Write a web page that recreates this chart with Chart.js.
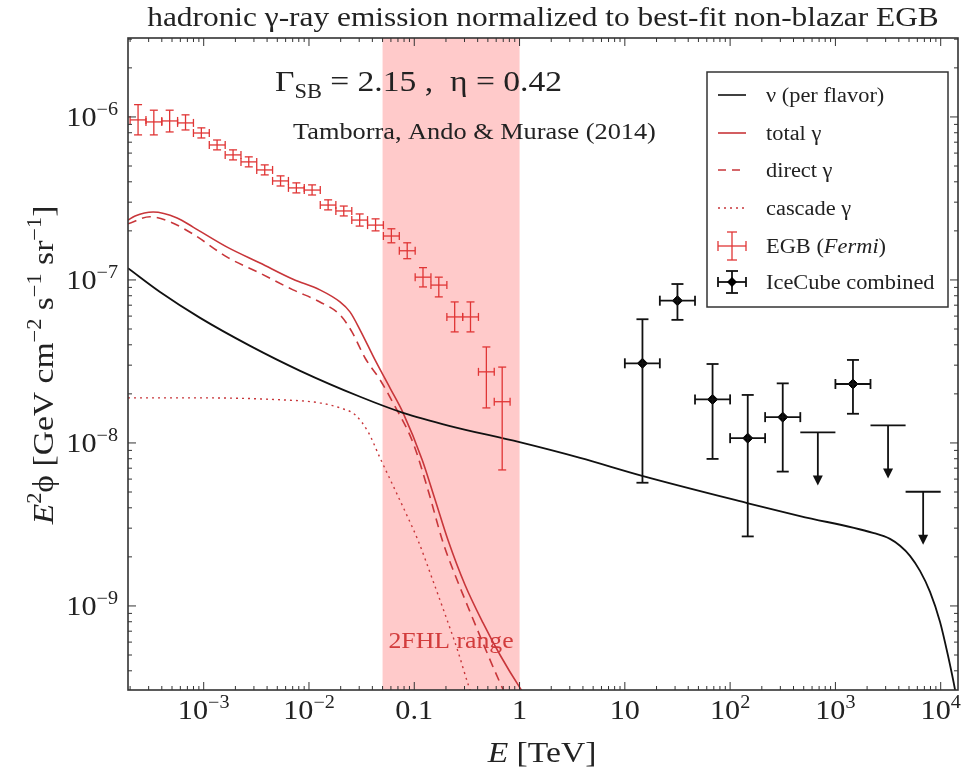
<!DOCTYPE html>
<html>
<head>
<meta charset="utf-8">
<script src="https://cdn.jsdelivr.net/npm/chart.js@4.4.1/dist/chart.umd.min.js"></script>
<style>
  html, body { margin: 0; padding: 0; background: #fff; }
  #wrap { width: 974px; height: 779px; }
</style>
</head>
<body>
<div id="wrap"><canvas id="chart" width="974" height="779"></canvas></div>
<script>
// ---------------------------------------------------------------
//  Data (E in TeV, E^2 phi in GeV cm^-2 s^-1 sr^-1)
// ---------------------------------------------------------------
const nuE  = [1.91e-4, 3.85e-4, 9.24e-4, 2.76e-3, 8.24e-3, 3.06e-2, 7.83e-2, 0.219, 1.0, 3.76, 14.6, 145, 461, 2275, 3300, 4110, 5110, 6360, 7920, 9860, 1.17e4, 1.37e4, 1.53e4];
const nuF  = [1.18e-7, 8.43e-8, 5.85e-8, 3.94e-8, 2.77e-8, 1.92e-8, 1.53e-8, 1.27e-8, 1.01e-8, 8.09e-9, 6.28e-9, 4.28e-9, 3.56e-9, 2.81e-9, 2.58e-9, 2.34e-9, 2.03e-9, 1.64e-9, 1.22e-9, 7.98e-10, 5.00e-10, 3.05e-10, 2.0e-10];

const totE = [1.91e-4, 2.23e-4, 3.31e-4, 5.59e-4, 7.93e-4, 1.67e-3, 3.43e-3, 7.06e-3, 1.27e-2, 1.97e-2, 2.45e-2, 3.06e-2, 4.24e-2, 5.89e-2, 7.83e-2, 0.119, 0.158, 0.209, 0.303, 0.450, 0.653, 1.01, 1.55];
const totF = [2.33e-7, 2.47e-7, 2.61e-7, 2.40e-7, 2.11e-7, 1.59e-7, 1.27e-7, 1.01e-7, 8.69e-8, 7.33e-8, 6.37e-8, 4.93e-8, 3.23e-8, 2.17e-8, 1.53e-8, 7.87e-9, 4.47e-9, 2.54e-9, 1.35e-9, 7.87e-10, 5.00e-10, 3.14e-10, 2.1e-10];

const dirE = [1.91e-4, 3.09e-4, 4.80e-4, 7.93e-4, 1.67e-3, 3.43e-3, 7.06e-3, 1.27e-2, 1.97e-2, 2.56e-2, 3.41e-2, 4.73e-2, 6.29e-2, 9.75e-2, 0.135, 0.188, 0.244, 0.324, 0.470, 0.653, 0.81];
const dirF = [2.21e-7, 2.44e-7, 2.27e-7, 1.91e-7, 1.38e-7, 1.10e-7, 8.69e-8, 7.33e-8, 6.10e-8, 4.80e-8, 3.32e-8, 2.44e-8, 1.76e-8, 1.0e-8, 5.15e-9, 2.44e-9, 1.55e-9, 9.86e-10, 5.52e-10, 3.37e-10, 2.5e-10];

const casE = [1.91e-4, 9.24e-4, 5.32e-3, 1.27e-2, 1.97e-2, 2.74e-2, 3.64e-2, 4.73e-2, 6.57e-2, 8.73e-2, 0.109, 0.151, 0.205, 0.261, 0.324, 0.404];
const casF = [1.89e-8, 1.89e-8, 1.84e-8, 1.76e-8, 1.64e-8, 1.49e-8, 1.17e-8, 8.09e-9, 5.15e-9, 3.47e-9, 2.51e-9, 1.42e-9, 8.20e-10, 5.22e-10, 3.32e-10, 2.24e-10];

// Fermi EGB: bin centre, bin edges, flux, error range
const egbE   = [2.38e-4, 3.36e-4, 4.75e-4, 6.72e-4, 9.50e-4, 1.34e-3, 1.90e-3, 2.68e-3, 3.80e-3, 5.37e-3, 7.59e-3, 1.07e-2, 1.52e-2, 2.14e-2, 3.03e-2, 4.29e-2, 6.06e-2, 8.57e-2, 0.121, 0.171, 0.242, 0.342, 0.484, 0.684];
const egbElo = [2.00e-4, 2.83e-4, 4.00e-4, 5.65e-4, 7.99e-4, 1.13e-3, 1.60e-3, 2.26e-3, 3.19e-3, 4.51e-3, 6.38e-3, 9.02e-3, 1.28e-2, 1.80e-2, 2.55e-2, 3.60e-2, 5.09e-2, 7.21e-2, 0.102, 0.144, 0.204, 0.288, 0.407, 0.575];
const egbEhi = [2.83e-4, 4.00e-4, 5.65e-4, 7.99e-4, 1.13e-3, 1.60e-3, 2.26e-3, 3.19e-3, 4.51e-3, 6.38e-3, 9.02e-3, 1.28e-2, 1.80e-2, 2.55e-2, 3.60e-2, 5.09e-2, 7.21e-2, 0.102, 0.144, 0.204, 0.288, 0.407, 0.575, 0.813];
const egbF   = [9.59e-7, 9.32e-7, 9.45e-7, 9.19e-7, 7.97e-7, 6.73e-7, 5.85e-7, 5.30e-7, 4.73e-7, 4.05e-7, 3.67e-7, 3.56e-7, 2.88e-7, 2.65e-7, 2.33e-7, 2.17e-7, 1.86e-7, 1.51e-7, 1.04e-7, 9.3e-8, 5.93e-8, 5.93e-8, 2.73e-8, 1.79e-8];
const egbHi  = [1.19e-6, 1.10e-6, 1.10e-6, 1.03e-6, 8.57e-7, 7.22e-7, 6.28e-7, 5.69e-7, 5.08e-7, 4.35e-7, 3.94e-7, 3.83e-7, 3.10e-7, 2.84e-7, 2.54e-7, 2.37e-7, 2.06e-7, 1.69e-7, 1.19e-7, 1.04e-7, 7.33e-8, 7.33e-8, 3.88e-8, 2.92e-8];
const egbLo  = [7.76e-7, 7.76e-7, 8.09e-7, 8.32e-7, 7.43e-7, 6.28e-7, 5.45e-7, 4.94e-7, 4.41e-7, 3.77e-7, 3.42e-7, 3.32e-7, 2.69e-7, 2.47e-7, 2.14e-7, 2.00e-7, 1.69e-7, 1.35e-7, 9.06e-8, 7.87e-8, 4.80e-8, 4.80e-8, 1.64e-8, 6.83e-9];

// IceCube combined: measured points
const icE   = [14.7, 31.6, 68.1, 147, 316, 1468];
const icElo = [10.0, 21.5, 46.4, 100, 215, 1000];
const icEhi = [21.5, 46.4, 100, 215, 464, 2154];
const icF   = [3.08e-8, 7.46e-8, 1.85e-8, 1.07e-8, 1.44e-8, 2.30e-8];
const icHi  = [5.74e-8, 9.44e-8, 3.05e-8, 1.97e-8, 2.32e-8, 3.23e-8];
const icLo  = [5.70e-9, 5.69e-8, 7.98e-9, 2.67e-9, 6.67e-9, 1.51e-8];

// IceCube combined: upper limits
const ulE   = [681, 3162, 6813];
const ulElo = [464, 2154, 4642];
const ulEhi = [1000, 4642, 10000];
const ulF   = [1.16e-8, 1.28e-8, 5.02e-9];

// axes
const xMin = 1.91e-4, xMax = 1.46e4;
const yMin = 3.05e-10, yMax = 3.05e-6;
const xTickValues = [1e-3, 1e-2, 0.1, 1, 10, 100, 1e3, 1e4];
const xTickText = [['10', '−3'], ['10', '−2'], ['0.1', ''], ['1', ''], ['10', ''], ['10', '2'], ['10', '3'], ['10', '4']];
const yTickValues = [1e-9, 1e-8, 1e-7, 1e-6];
const yTickText = [['10', '−9'], ['10', '−8'], ['10', '−7'], ['10', '−6']];

const bandRange = [0.05, 1];

// ---------------------------------------------------------------
//  Style helpers
// ---------------------------------------------------------------
const SERIF = '"Liberation Serif", "DejaVu Serif", serif';
const RED = '#c8363a';
const RED_BAR = '#e03535';
const FRAME = '#333';
const HS = 1.12;   // the original lettering is a bit wider than Liberation Serif

function toXY(xs, ys) {
    return xs.map((x, i) => ({ x, y: ys[i] }));
}

function fontOf(p, size) {
    const s = (p.sup || p.sub) ? Math.round(size * 0.66) : size;
    return (p.it ? 'italic ' : '') + s + 'px ' + SERIF;
}

function richWidth(ctx, parts, size) {
    let w = 0;
    for (const p of parts) { ctx.font = fontOf(p, size); w += ctx.measureText(p.t).width; }
    return w * HS;
}

function drawRich(ctx, parts, x, y, size, align) {
    const w = richWidth(ctx, parts, size);
    const x0 = align === 'center' ? x - w / 2 : align === 'right' ? x - w : x;
    ctx.save();
    ctx.translate(x0, y);
    ctx.scale(HS, 1);
    ctx.textAlign = 'left';
    ctx.textBaseline = 'alphabetic';
    let cx = 0;
    for (const p of parts) {
        ctx.font = fontOf(p, size);
        const dy = p.sup ? -size * 0.4 : p.sub ? size * 0.22 : 0;
        ctx.fillText(p.t, cx, dy);
        cx += ctx.measureText(p.t).width;
    }
    ctx.restore();
}

function tickParts(pair) {
    return pair[1] ? [{ t: pair[0] }, { t: pair[1], sup: true }] : [{ t: pair[0] }];
}

function line(ctx, x1, y1, x2, y2) {
    ctx.beginPath(); ctx.moveTo(x1, y1); ctx.lineTo(x2, y2); ctx.stroke();
}

// ---------------------------------------------------------------
//  Plugin: band, frame, ticks, error bars, texts, legend
// ---------------------------------------------------------------
const decorPlugin = {
    id: 'decor',
    beforeDatasetsDraw(chart) {
        const { ctx, chartArea: a, scales: { x } } = chart;
        ctx.save();
        ctx.fillStyle = '#ffcaca';
        const x0 = x.getPixelForValue(bandRange[0]), x1 = x.getPixelForValue(bandRange[1]);
        ctx.fillRect(x0, a.top, x1 - x0, a.bottom - a.top);
        ctx.fillStyle = '#d23c3c';
        drawRich(ctx, [{ t: '2FHL range' }], (x0 + x1) / 2, 648, 23, 'center');
        ctx.restore();
    },
    afterDatasetsDraw(chart) {
        const { ctx, chartArea: a, scales: { x, y } } = chart;
        ctx.save();
        ctx.beginPath();
        ctx.rect(a.left, a.top, a.right - a.left, a.bottom - a.top);
        ctx.clip();

        // Fermi EGB crosses
        ctx.strokeStyle = RED_BAR;
        ctx.lineWidth = 1.3;
        egbE.forEach((e, i) => {
            const px = x.getPixelForValue(e), py = y.getPixelForValue(egbF[i]);
            const xl = x.getPixelForValue(egbElo[i]), xh = x.getPixelForValue(egbEhi[i]);
            const yl = y.getPixelForValue(egbLo[i]), yh = y.getPixelForValue(egbHi[i]);
            line(ctx, xl, py, xh, py);
            line(ctx, xl, py - 4, xl, py + 4);
            line(ctx, xh, py - 4, xh, py + 4);
            line(ctx, px, yl, px, yh);
            line(ctx, px - 4, yl, px + 4, yl);
            line(ctx, px - 4, yh, px + 4, yh);
        });

        // IceCube bars
        ctx.strokeStyle = '#111';
        ctx.lineWidth = 1.8;
        icE.forEach((e, i) => {
            const px = x.getPixelForValue(e), py = y.getPixelForValue(icF[i]);
            const xl = x.getPixelForValue(icElo[i]), xh = x.getPixelForValue(icEhi[i]);
            const yl = y.getPixelForValue(icLo[i]), yh = y.getPixelForValue(icHi[i]);
            line(ctx, xl, py, xh, py);
            line(ctx, xl, py - 5, xl, py + 5);
            line(ctx, xh, py - 5, xh, py + 5);
            line(ctx, px, yl, px, yh);
            line(ctx, px - 6, yl, px + 6, yl);
            line(ctx, px - 6, yh, px + 6, yh);
        });

        // IceCube upper limits
        ctx.fillStyle = '#111';
        ulE.forEach((e, i) => {
            const px = x.getPixelForValue(e), py = y.getPixelForValue(ulF[i]);
            const xl = x.getPixelForValue(ulElo[i]), xh = x.getPixelForValue(ulEhi[i]);
            line(ctx, xl, py, xh, py);
            line(ctx, px, py, px, py + 45);
            ctx.beginPath();
            ctx.moveTo(px - 5, py + 43);
            ctx.lineTo(px + 5, py + 43);
            ctx.lineTo(px, py + 53);
            ctx.closePath();
            ctx.fill();
        });
        ctx.restore();
    },
    afterDraw(chart) {
        const { ctx, chartArea: a, scales: { x, y } } = chart;
        ctx.save();

        // frame
        ctx.strokeStyle = FRAME;
        ctx.lineWidth = 1.6;
        ctx.strokeRect(a.left, a.top, a.right - a.left, a.bottom - a.top);

        // ticks on all four sides, pointing inwards
        ctx.lineWidth = 1;
        for (let d = -4; d <= 4; d++) {
            for (let m = 1; m <= 9; m++) {
                const v = m * Math.pow(10, d);
                if (v <= xMin || v >= xMax) continue;
                const px = x.getPixelForValue(v), len = m === 1 ? 8 : 4;
                line(ctx, px, a.bottom, px, a.bottom - len);
                line(ctx, px, a.top, px, a.top + len);
            }
        }
        for (let d = -10; d <= -6; d++) {
            for (let m = 1; m <= 9; m++) {
                const v = m * Math.pow(10, d);
                if (v <= yMin || v >= yMax) continue;
                const py = y.getPixelForValue(v), len = m === 1 ? 8 : 4;
                line(ctx, a.left, py, a.left + len, py);
                line(ctx, a.right, py, a.right - len, py);
            }
        }

        // tick labels
        ctx.fillStyle = '#222';
        xTickValues.forEach((v, i) => {
            drawRich(ctx, tickParts(xTickText[i]), x.getPixelForValue(v), 719, 27, 'center');
        });
        yTickValues.forEach((v, i) => {
            drawRich(ctx, tickParts(yTickText[i]), 118, y.getPixelForValue(v) + 9, 27, 'right');
        });

        // axis titles
        drawRich(ctx, [{ t: 'E', it: true }, { t: ' [TeV]' }], 542, 762, 30, 'center');
        ctx.save();
        ctx.translate(53, 365);
        ctx.rotate(-Math.PI / 2);
        drawRich(ctx, [
            { t: 'E', it: true }, { t: '2', sup: true }, { t: 'ϕ [GeV cm' }, { t: '−2', sup: true },
            { t: ' s' }, { t: '−1', sup: true }, { t: ' sr' }, { t: '−1', sup: true }, { t: ']' }
        ], 0, 0, 30, 'center');
        ctx.restore();

        // title and annotations
        drawRich(ctx, [{ t: 'hadronic γ-ray emission normalized to best-fit non-blazar EGB' }], 543, 26, 28, 'center');
        drawRich(ctx, [{ t: 'Γ' }, { t: 'SB', sub: true }, { t: ' = 2.15 ,  η = 0.42' }], 275, 91, 30, 'left');
        drawRich(ctx, [{ t: 'Tamborra, Ando & Murase (2014)' }], 293, 139, 23.5, 'left');

        // legend
        const lx = 707, ly = 72, lw = 241, lh = 235;
        ctx.fillStyle = '#fff';
        ctx.fillRect(lx, ly, lw, lh);
        ctx.strokeStyle = FRAME;
        ctx.lineWidth = 1.5;
        ctx.strokeRect(lx, ly, lw, lh);
        const rows = [95, 133, 170, 208, 246, 282];
        const sx0 = 718, sx1 = 746, tx = 766;
        ctx.lineWidth = 1.6;
        ctx.strokeStyle = '#111'; line(ctx, sx0, rows[0], sx1, rows[0]);
        ctx.strokeStyle = RED; line(ctx, sx0, rows[1], sx1, rows[1]);
        ctx.setLineDash([8, 6]); line(ctx, sx0, rows[2], sx1, rows[2]);
        ctx.setLineDash([2, 4]); line(ctx, sx0, rows[3], sx1, rows[3]);
        ctx.setLineDash([]);
        // EGB cross
        const cx = (sx0 + sx1) / 2;
        ctx.strokeStyle = RED_BAR; ctx.lineWidth = 1.3;
        line(ctx, sx0, rows[4], sx1, rows[4]);
        line(ctx, sx0, rows[4] - 5, sx0, rows[4] + 5);
        line(ctx, sx1, rows[4] - 5, sx1, rows[4] + 5);
        line(ctx, cx, rows[4] - 14, cx, rows[4] + 14);
        line(ctx, cx - 5, rows[4] - 14, cx + 5, rows[4] - 14);
        line(ctx, cx - 5, rows[4] + 14, cx + 5, rows[4] + 14);
        // IceCube cross
        ctx.strokeStyle = '#111'; ctx.lineWidth = 1.8;
        line(ctx, sx0, rows[5], sx1, rows[5]);
        line(ctx, sx0, rows[5] - 5, sx0, rows[5] + 5);
        line(ctx, sx1, rows[5] - 5, sx1, rows[5] + 5);
        line(ctx, cx, rows[5] - 11, cx, rows[5] + 11);
        line(ctx, cx - 6, rows[5] - 11, cx + 6, rows[5] - 11);
        line(ctx, cx - 6, rows[5] + 11, cx + 6, rows[5] + 11);
        ctx.fillStyle = '#000';
        ctx.beginPath();
        ctx.moveTo(cx, rows[5] - 5); ctx.lineTo(cx + 5, rows[5]); ctx.lineTo(cx, rows[5] + 5); ctx.lineTo(cx - 5, rows[5]);
        ctx.closePath(); ctx.fill();

        ctx.fillStyle = '#222';
        const ls = 20;
        drawRich(ctx, [{ t: 'ν (per flavor)' }], tx, rows[0] + 7, ls, 'left');
        drawRich(ctx, [{ t: 'total γ' }], tx, rows[1] + 7, ls, 'left');
        drawRich(ctx, [{ t: 'direct γ' }], tx, rows[2] + 7, ls, 'left');
        drawRich(ctx, [{ t: 'cascade γ' }], tx, rows[3] + 7, ls, 'left');
        drawRich(ctx, [{ t: 'EGB (' }, { t: 'Fermi', it: true }, { t: ')' }], tx, rows[4] + 7, ls, 'left');
        drawRich(ctx, [{ t: 'IceCube combined' }], tx, rows[5] + 7, ls, 'left');
        ctx.restore();
    }
};

// ---------------------------------------------------------------
//  Chart
// ---------------------------------------------------------------
const curve = (label, xs, ys, color, width, dash) => ({
    type: 'line',
    label,
    data: toXY(xs, ys),
    borderColor: color,
    borderWidth: width,
    borderDash: dash || [],
    pointRadius: 0,
    fill: false,
    cubicInterpolationMode: 'monotone'
});

new Chart(document.getElementById('chart'), {
    type: 'scatter',
    data: {
        datasets: [
            curve('ν (per flavor)', nuE, nuF, '#111', 1.8),
            curve('total γ', totE, totF, RED, 1.6),
            curve('direct γ', dirE, dirF, RED, 1.6, [9, 6]),
            curve('cascade γ', casE, casF, RED, 1.4, [2, 4]),
            { label: 'EGB (Fermi)', data: toXY(egbE, egbF), pointRadius: 0, showLine: false },
            {
                label: 'IceCube combined', data: toXY(icE, icF), showLine: false,
                pointStyle: 'rectRot', pointRadius: 5, backgroundColor: '#000', borderColor: '#000'
            }
        ]
    },
    options: {
        responsive: false,
        animation: false,
        devicePixelRatio: 1,
        layout: { padding: { left: 128, right: 16, top: 38, bottom: 89 } },
        scales: {
            x: { type: 'logarithmic', min: xMin, max: xMax, display: false },
            y: { type: 'logarithmic', min: yMin, max: yMax, display: false }
        },
        plugins: {
            legend: { display: false },
            title: { display: false },
            tooltip: { enabled: false }
        }
    },
    plugins: [decorPlugin]
});
</script>
</body>
</html>
